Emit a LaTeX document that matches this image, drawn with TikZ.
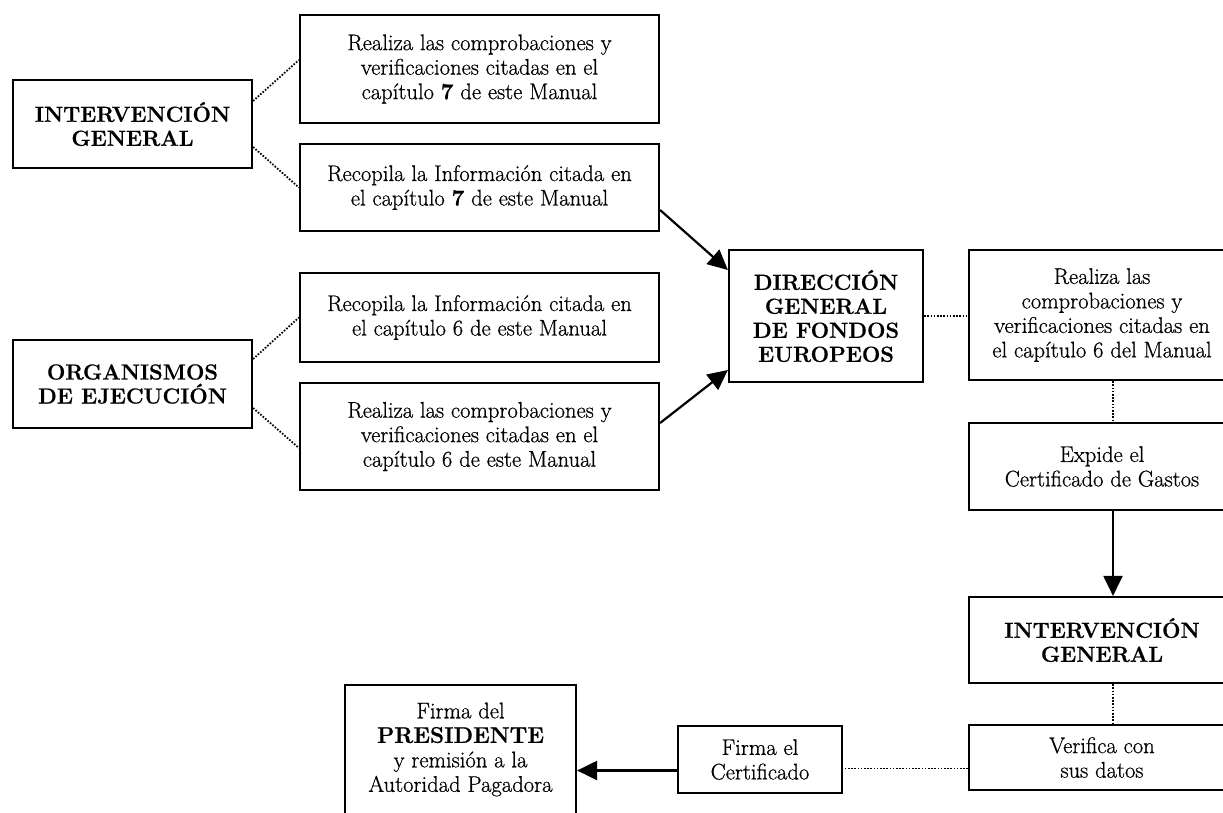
\documentclass[tikz,border=0pt]{standalone}
\usepackage{fontspec}
\setmainfont{Latin Modern Roman}[FakeBold=0.7]
\usetikzlibrary{arrows.meta,calc}
\begin{document}
\begin{tikzpicture}[x=1pt,y=-1pt,
  box/.style={draw,line width=2.2pt,inner sep=0pt,align=center,
    font=\fontsize{22.6}{24.5}\selectfont},
  title/.style={box,font=\fontsize{21.8}{24}\selectfont\bfseries},
  dotline/.style={line width=1.8pt,dash pattern=on 1.6pt off 1.6pt},
  arr/.style={line width=2.2pt,-{Triangle[length=20pt,width=19pt]}},
]
\useasboundingbox (0,0) rectangle (1223,812);
\clip (0,0) rectangle (1223,812);

% left column: the two bodies
\node[title,minimum width=239pt,minimum height=88pt] (ig1) at (132.5,124)
  {INTERVENCIÓN\\GENERAL};
\node[title,minimum width=239pt,minimum height=88pt] (oe) at (132.5,384)
  {ORGANISMOS\\DE EJECUCIÓN};

% middle column: their tasks
\node[box,minimum width=359pt,minimum height=108pt] (r7) at (479.5,69)
  {Realiza las comprobaciones y\\verificaciones citadas en el\\capítulo \textbf{7} de este Manual};
\node[box,minimum width=359pt,minimum height=87pt] (i7) at (479.5,187.5)
  {Recopila la Información citada en\\el capítulo \textbf{7} de este Manual};
\node[box,minimum width=359pt,minimum height=89pt] (i6) at (479.5,317.5)
  {Recopila la Información citada en\\el capítulo 6 de este Manual};
\node[box,minimum width=359pt,minimum height=107pt] (r6a) at (479.5,436.5)
  {Realiza las comprobaciones y\\verificaciones citadas en el\\capítulo 6 de este Manual};

% directorate
\node[title,minimum width=194pt,minimum height=132pt] (dgfe) at (826,316)
  {DIRECCIÓN\\GENERAL\\DE FONDOS\\EUROPEOS};

% right column
\node[box,minimum width=266pt,minimum height=130pt] (r6b) at (1102,315)
  {Realiza las\\comprobaciones y\\verificaciones citadas en\\el capítulo 6 del Manual};
\node[box,minimum width=266pt,minimum height=87pt] (exp) at (1102,466.5)
  {Expide el\\Certificado de Gastos};
\node[title,minimum width=266pt,minimum height=86pt] (ig2) at (1102,640)
  {INTERVENCIÓN\\GENERAL};
\node[box,minimum width=266pt,minimum height=65pt] (ver) at (1102,757.5)
  {Verifica con\\sus datos};

% bottom row
\node[box,minimum width=164pt,minimum height=67pt] (firma) at (760,759.5)
  {Firma el\\Certificado};
\node[box,minimum width=231pt,minimum height=129pt] (pres) at (460.5,749.5)
  {Firma del\\\textbf{PRESIDENTE}\\y remisión a la\\Autoridad Pagadora};

\coordinate (vx) at (1113,0);

% dotted links from the bodies to their tasks
\draw[dotline] ([yshift=23pt]ig1.east) -- ([yshift=9pt]r7.west);
\draw[dotline] ([yshift=-23pt]ig1.east) -- (i7.west);
\draw[dotline] ([yshift=25pt]oe.east) -- (i6.west);
\draw[dotline] ([yshift=-24pt]oe.east) -- ([yshift=-11.5pt]r6a.west);

% information flows to the directorate
\draw[arr] ([yshift=-22.5pt]i7.east) -- ([yshift=46pt]dgfe.west);
\draw[arr] ([yshift=13.5pt]r6a.east) -- ([yshift=-54pt]dgfe.west);

% right column chain
\draw[dotline] (dgfe.east) -- (dgfe.east -| r6b.west);
\draw[dotline] (vx |- r6b.south) -- (vx |- exp.north);
\draw[arr] (vx |- exp.south) -- (vx |- ig2.north);
\draw[dotline] (vx |- ig2.south) -- (vx |- ver.north);

% bottom chain
\draw[dotline] ([yshift=-11pt]ver.west) -- ([yshift=-11pt]ver.west -| firma.east);
\draw[arr] ([yshift=-11pt]firma.west) -- ([yshift=-11pt]firma.west -| pres.east);
\end{tikzpicture}
\end{document}
